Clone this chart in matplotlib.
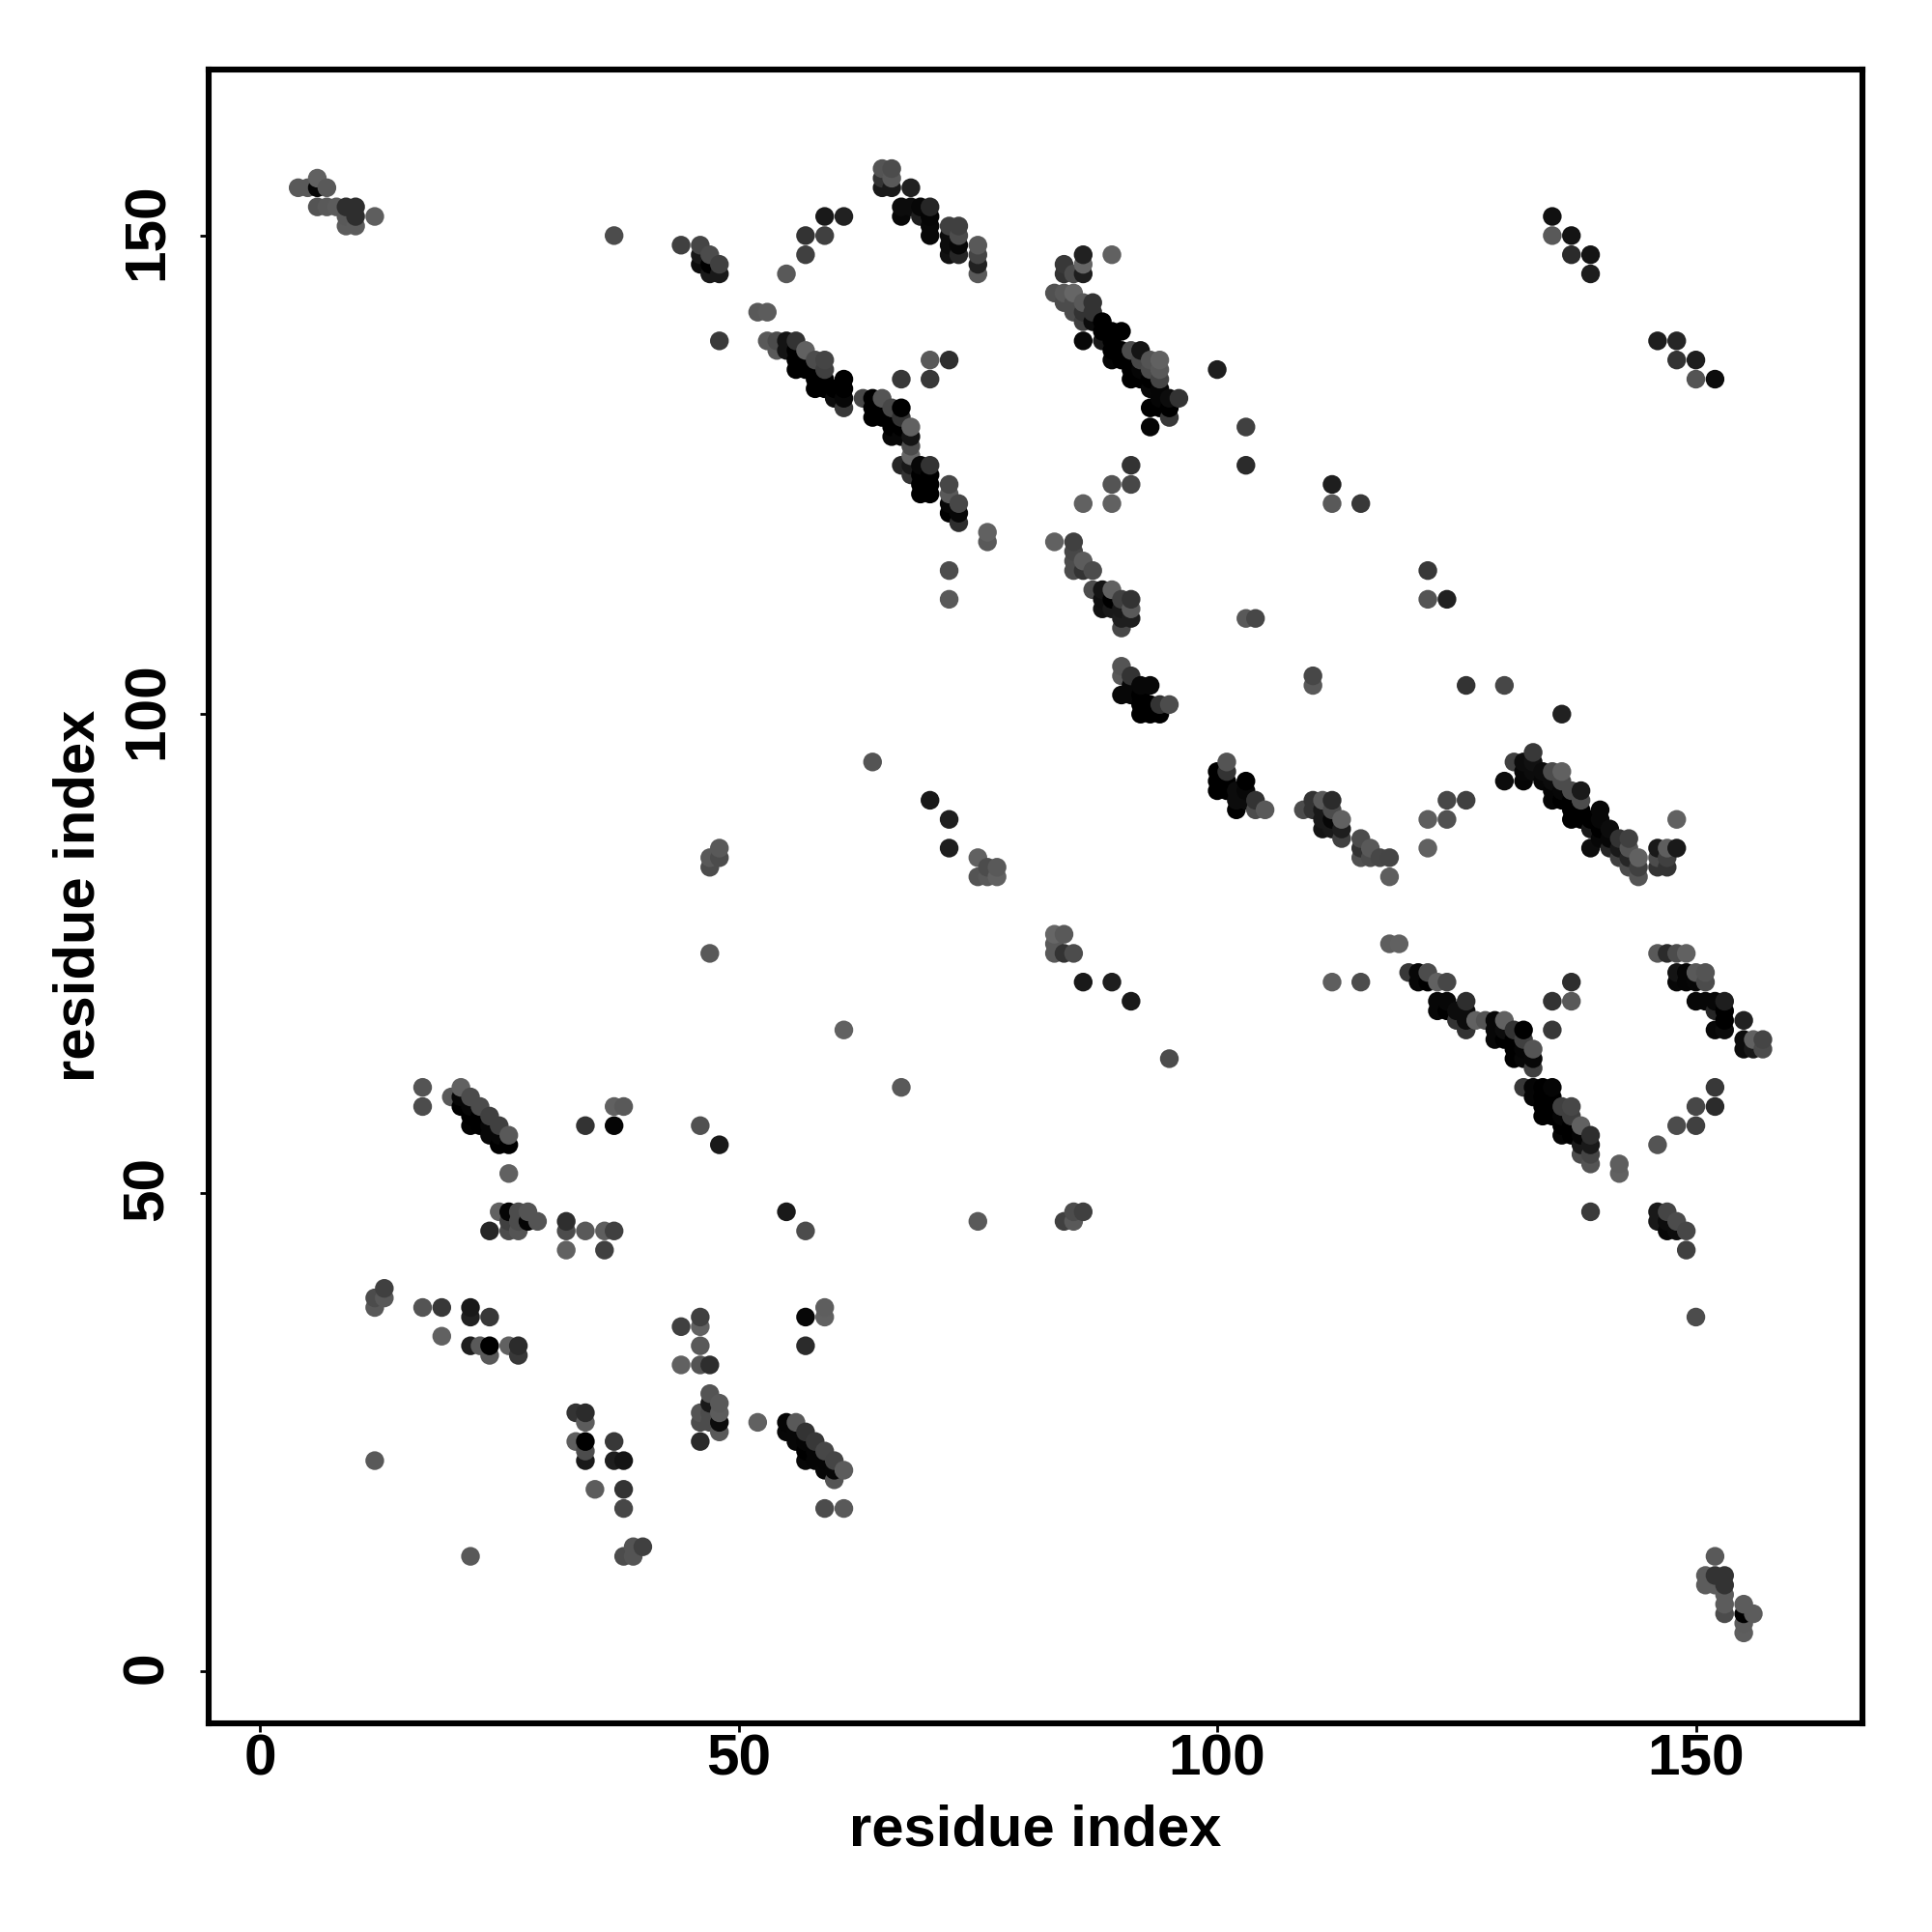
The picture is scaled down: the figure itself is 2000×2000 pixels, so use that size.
import numpy as np
import matplotlib
matplotlib.use("Agg")
import matplotlib.pyplot as plt
from matplotlib.transforms import ScaledTranslation

plt.rcParams['font.family'] = ['Liberation Sans', 'DejaVu Sans']

# contacts: residue pair + grey level, one block per region
tl_x = [4, 5, 6, 6, 7, 6, 7, 8, 9, 10, 9, 10, 12, 9, 10, 37, 44, 46, 47, 48, 46, 46, 47, 47, 48, 48, 52, 53]
tl_y = [155, 155, 156, 155, 155, 153, 153, 153, 153, 153, 152, 152, 152, 151, 151, 150, 149, 149, 148, 147, 148, 147, 147, 146, 146, 139, 142, 142]
tl_g = [.35, .35, .38, .02, .35, .33, .35, .36, .18, .18, .35, .18, .37, .36, .36, .3, .25, .27, .3, .25, .1, .05, 0, .1, .1, .23, .35, .36]

top_x = [55, 57, 57, 59, 59, 61, 65, 66, 65, 66, 65, 66, 68, 67, 68, 69, 70, 67, 69, 70, 70, 72, 73, 70, 72, 73, 72, 73, 75, 72, 73, 75, 75, 75]
top_y = [146, 148, 150, 150, 152, 152, 157, 157, 156, 156, 155, 155, 155, 153, 153, 153, 153, 152, 152, 152, 151, 151, 151, 150, 150, 150, 149, 149, 149, 148, 148, 148, 147, 146]
top_g = [.35, .25, .2, .25, .1, .13, .33, .3, .2, .35, .1, .1, .13, .05, .05, .03, .15, .03, .12, .02, .03, .25, .25, .03, .05, .3, .05, .03, .35, .07, .15, .27, .13, .35]

b1_x = [53, 54, 55, 56, 54, 55, 56, 57, 56, 57, 58, 59, 56, 57, 58, 59, 58, 59, 61, 58, 59, 60, 61, 60, 61, 63, 64, 65, 61, 64, 65, 66, 67, 64, 65, 66, 67, 66, 67, 68, 66, 67, 68, 68, 68]
b1_y = [139, 139, 139, 139, 138, 138, 138, 138, 137, 137, 137, 137, 136, 136, 136, 136, 135, 135, 135, 134, 134, 134, 134, 133, 133, 133, 133, 133, 132, 132, 132, 132, 132, 131, 131, 131, 131, 130, 130, 130, 129, 129, 129, 128, 127]
b1_g = [.35, .3, .08, .2, .35, .08, 0, .38, 0, 0, .3, .27, 0, 0, 0, .25, 0, 0, 0, 0, 0, 0, 0, .05, .03, .28, 0, .33, .22, 0, 0, .28, 0, 0, 0, 0, .2, 0, 0, .38, .03, .03, .08, .3, .4]

b2_x = [67, 68, 69, 70, 68, 69, 70, 69, 70, 72, 69, 70, 72, 72, 73, 72, 73, 73, 70, 72, 67, 70, 76, 76, 72, 72, 64]
b2_y = [126, 126, 126, 126, 125, 125, 125, 124, 124, 124, 123, 123, 123, 122, 122, 121, 121, 120, 137, 137, 135, 135, 119, 118, 115, 112, 95]
b2_g = [.15, .1, .03, .2, .2, 0, 0, 0, 0, .28, 0, 0, .35, .03, .28, 0, .03, .18, .35, .18, .22, .22, .38, .35, .3, .35, .33]

b3_x = [86, 89, 84, 86, 84, 85, 86, 83, 84, 85, 84, 85, 86, 87, 85, 86, 87, 86, 87, 88, 88, 89, 90, 86, 88, 89, 89, 90, 91, 92, 89, 90, 91, 92, 93, 94, 91, 92, 93, 94, 91, 92, 93, 94, 93, 94, 94, 95, 96, 93, 94, 95, 95, 93]
b3_y = [148, 148, 147, 147, 146, 146, 146, 144, 144, 144, 143, 143, 143, 143, 142, 142, 142, 141, 141, 141, 140, 140, 140, 139, 139, 139, 138, 138, 138, 138, 137, 137, 137, 137, 137, 137, 136, 136, 136, 136, 135, 135, 135, 135, 134, 134, 133, 133, 133, 132, 132, 132, 131, 130]
b3_g = [.13, .38, .22, .4, .2, .3, .12, .32, .35, .4, .3, .3, .35, .2, .3, .2, .2, .25, .05, 0, 0, 0, 0, .03, .1, 0, 0, 0, .3, .08, .02, 0, 0, .28, .33, .38, 0, .02, .3, .35, 0, 0, 0, .27, .03, .02, .02, .05, .2, 0, 0, 0, .22, .02]

mid_x = [100, 103, 103, 91, 91, 89, 86, 89, 112, 112, 115, 83, 85, 85, 85, 86, 85, 86, 87, 87, 88, 89, 88, 89, 90, 91, 88, 89, 90, 91, 90, 91, 90, 103, 104, 122, 122, 124]
mid_y = [136, 130, 126, 126, 124, 124, 122, 122, 124, 122, 122, 118, 118, 117, 116, 116, 115, 115, 115, 113, 113, 113, 112, 112, 112, 112, 111, 111, 111, 111, 110, 110, 109, 110, 110, 115, 112, 112]
mid_g = [.12, .25, .17, .2, .28, .33, .38, .38, .12, .35, .22, .38, .25, .28, .3, .36, .3, .2, .3, .3, .08, .38, .06, 0, .25, .2, .07, .1, .1, .35, .12, .12, .28, .35, .28, .22, .33, .13]

c100_x = [90, 90, 91, 92, 93, 91, 90, 91, 92, 92, 93, 94, 95, 92, 93, 94, 110, 110, 126, 130, 136, 101, 100, 101, 100, 101, 103, 100, 101, 102, 103, 102, 103, 104, 102, 104, 105]
c100_y = [105, 104, 104, 103, 103, 103, 102, 102, 102, 101, 101, 101, 101, 100, 100, 100, 104, 103, 103, 103, 100, 95, 94, 94, 93, 93, 93, 92, 92, 92, 92, 91, 91, 91, 90, 90, 90]
c100_g = [.33, .35, .2, .03, .03, .03, .03, .03, 0, 0, 0, .2, .3, 0, 0, 0, .28, .35, .2, .28, .13, .33, 0, .2, 0, 0, 0, 0, 0, .05, .03, .05, .05, .2, 0, .3, .35]

c110_x = [109, 110, 111, 112, 110, 111, 112, 111, 112, 113, 111, 112, 113, 113, 115, 115, 116, 115, 116, 117, 118, 118, 122, 124, 124, 126, 122]
c110_y = [90, 91, 91, 91, 90, 90, 90, 89, 89, 89, 88, 88, 88, 87, 87, 86, 86, 85, 85, 85, 85, 83, 89, 89, 91, 91, 86]
c110_g = [.3, .2, .35, .17, .2, .1, .3, .1, .03, .38, .08, .1, .12, .25, .3, .2, .35, .32, .3, .28, .27, .37, .37, .32, .28, .25, .38]

b4_x = [130, 131, 133, 132, 133, 132, 133, 134, 135, 136, 132, 134, 135, 136, 135, 136, 137, 138, 135, 136, 137, 138, 137, 138, 140, 137, 138, 139, 140, 139, 140, 141, 140, 141, 142, 143, 139, 141, 142, 143, 142, 143, 144, 143, 144, 144, 148, 146, 147, 148, 146, 147, 146, 147]
b4_y = [93, 95, 96, 95, 95, 94, 94, 94, 94, 94, 93, 93, 93, 93, 92, 92, 92, 92, 91, 91, 91, 91, 90, 90, 90, 89, 89, 89, 89, 88, 88, 88, 87, 87, 87, 87, 86, 86, 86, 86, 85, 85, 85, 84, 84, 83, 89, 86, 86, 86, 85, 85, 84, 84]
b4_g = [.05, .25, .22, .05, .07, .03, .05, .05, .3, .38, .02, .03, .05, .3, .02, .03, .3, .1, .02, 0, 0, .3, 0, 0, .03, 0, 0, 0, .03, .1, 0, .05, .03, .03, .2, .25, .05, .15, .1, .33, .25, .15, .38, .3, .25, .33, .38, .1, .37, .1, .3, .25, .2, .2]

c75_x = [47, 47, 47, 48, 48, 70, 72, 72, 75, 76, 77, 75, 76, 77, 83, 84, 83, 83, 84, 85, 86, 89, 91, 61, 67, 95, 75, 84, 85, 85, 86]
c75_y = [75, 84, 85, 85, 86, 91, 89, 86, 85, 84, 84, 83, 83, 83, 77, 77, 76, 75, 75, 75, 72, 72, 70, 67, 61, 64, 47, 47, 47, 48, 48]
c75_g = [.35, .3, .35, .3, .35, .1, .12, .12, .38, .3, .35, .33, .35, .38, .4, .35, .35, .35, .2, .3, .1, .12, .1, .38, .35, .3, .35, .25, .35, .3, .25]

b5_x = [118, 119, 112, 115, 120, 121, 122, 121, 122, 123, 124, 123, 124, 126, 123, 124, 125, 126, 125, 126, 127, 128, 129, 130, 126, 129, 130, 131, 132, 129, 130, 131, 132, 131, 132, 133, 131, 132, 133, 133]
b5_y = [76, 76, 72, 72, 73, 73, 73, 72, 72, 72, 72, 70, 70, 70, 69, 69, 69, 69, 68, 68, 68, 68, 68, 68, 67, 67, 67, 67, 67, 66, 66, 66, 66, 65, 65, 65, 64, 64, 64, 63]
b5_g = [.37, .38, .37, .3, .22, .03, .3, .03, 0, .38, .28, .03, .03, .18, .03, 0, .05, .05, .2, .05, .38, .33, .03, .38, .2, .03, .05, .2, 0, .03, 0, 0, .25, 0, .02, .33, 0, .03, .03, .25]

b6_x = [132, 133, 134, 135, 133, 134, 135, 134, 135, 136, 137, 134, 135, 136, 137, 136, 137, 138, 136, 137, 138, 139, 138, 139, 138, 139, 139, 142, 142, 137, 137, 135, 135, 139]
b6_y = [61, 61, 61, 61, 60, 60, 60, 59, 59, 59, 59, 58, 58, 58, 58, 57, 57, 57, 56, 56, 56, 56, 55, 55, 54, 54, 53, 53, 52, 72, 70, 70, 67, 48]
b6_g = [.22, .02, 0, .02, .02, 0, 0, 0, 0, .25, .28, 0, 0, .02, .25, 0, 0, .38, .02, 0, .02, .18, .1, .1, .3, .27, .33, .37, .38, .18, .35, .2, .22, .23]

b7_x = [146, 147, 148, 149, 148, 149, 150, 151, 148, 149, 150, 151, 150, 151, 152, 153, 152, 153, 153, 155, 152, 153, 155, 156, 157, 155, 156, 157]
b7_y = [75, 75, 75, 75, 73, 73, 73, 73, 72, 72, 72, 72, 70, 70, 70, 70, 69, 69, 68, 68, 67, 67, 66, 66, 66, 65, 65, 65]
b7_g = [.35, .17, .3, .38, .08, .02, .35, .33, .03, .02, .03, .3, .03, .03, .03, .12, .15, 0, 0, .13, .03, .05, .05, .38, .27, .05, .1, .3]

br_x = [152, 152, 150, 150, 148, 146, 146, 147, 146, 147, 148, 147, 148, 149, 149, 150, 135, 135, 137, 137, 139, 139, 146, 148, 148, 150, 150, 152]
br_y = [61, 59, 59, 57, 57, 55, 48, 48, 47, 47, 47, 46, 46, 46, 44, 37, 152, 150, 150, 148, 148, 146, 139, 139, 137, 137, 135, 135]
br_g = [.22, .17, .28, .25, .3, .33, .1, .27, .1, .05, .3, .03, .05, .28, .25, .3, .07, .35, .08, .17, .08, .12, .12, .15, .2, .12, .33, .05]

corner_x = [152, 151, 152, 153, 151, 152, 153, 153, 153, 153, 155, 155, 156, 155, 155]
corner_y = [12, 10, 10, 10, 9, 9, 9, 8, 7, 6, 7, 6, 6, 5, 4]
corner_g = [.35, .36, .2, .2, .36, .36, .2, .36, .36, .3, .36, 0, .36, .36, .37]

ll_x = [17, 17, 20, 21, 21, 22, 21, 22, 23, 22, 23, 24, 22, 23, 24, 25, 24, 25, 26, 25, 26, 26, 37, 38, 34, 37, 46, 48]
ll_y = [61, 59, 60, 61, 60, 60, 59, 59, 59, 58, 58, 58, 57, 57, 57, 57, 56, 56, 56, 55, 55, 52, 59, 59, 57, 57, 57, 55]
ll_g = [.33, .3, .35, .38, .03, .3, 0, .03, .3, 0, 0, .25, .01, 0, .03, .25, .03, .03, .35, 0, 0, .38, .38, .35, .2, .02, .32, .1]

c47_x = [25, 26, 27, 28, 26, 27, 28, 29, 24, 26, 27, 32, 32, 34, 36, 37, 32, 36, 55, 57]
c47_y = [48, 48, 48, 48, 47, 47, 47, 47, 46, 46, 46, 47, 46, 46, 46, 46, 44, 44, 48, 46]
c47_g = [.38, .02, .3, .33, .25, .3, .02, .33, .15, .3, .33, .18, .3, .35, .37, .25, .38, .25, .1, .3]

c35_x = [12, 12, 13, 13, 17, 19, 22, 22, 24, 19, 22, 23, 24, 26, 27, 24, 27, 46, 46, 44, 46, 44, 46, 47, 59, 59, 57, 57]
c35_y = [39, 38, 40, 39, 38, 38, 38, 37, 37, 35, 34, 34, 34, 34, 34, 33, 33, 37, 36, 36, 34, 32, 32, 32, 38, 37, 37, 34]
c35_g = [.3, .35, .25, .35, .33, .22, .1, .13, .22, .38, .12, .35, 0, .38, .17, .35, .22, .25, .38, .25, .35, .38, .33, .18, .37, .38, .03, .17]

c25_x = [47, 48, 46, 47, 48, 47, 46, 47, 48, 48, 46, 52, 33, 34, 34, 33, 34, 34, 34, 37, 37, 38, 35, 38, 38, 38, 39, 39, 40]
c25_y = [29, 28, 27, 27, 27, 28, 26, 26, 26, 25, 24, 26, 27, 27, 26, 24, 24, 23, 22, 24, 22, 22, 19, 19, 17, 12, 12, 13, 13]
c25_g = [.33, .35, .33, .3, .36, .1, .3, .3, .05, .35, .17, .38, .2, .17, .36, .37, 0, .3, .1, .22, .12, .08, .36, .2, .28, .3, .33, .33, .25]

b8_x = [55, 56, 55, 56, 57, 56, 57, 58, 57, 58, 59, 57, 58, 59, 60, 59, 60, 61, 60, 59, 61, 12, 22]
b8_y = [26, 26, 25, 25, 25, 24, 24, 24, 23, 23, 23, 22, 22, 22, 22, 21, 21, 21, 20, 17, 17, 22, 12]
b8_g = [.02, .35, .03, .03, .2, .03, .02, .22, 0, .02, .28, .03, .02, .02, .27, .03, .03, .36, .33, .3, .35, .35, .35]

tick_vals = [0, 50, 100, 150]

xs = np.array(tl_x + top_x + b1_x + b2_x + b3_x + mid_x + c100_x + c110_x + b4_x + c75_x + b5_x + b6_x + b7_x + br_x + corner_x + ll_x + c47_x + c35_x + c25_x + b8_x)
ys = np.array(tl_y + top_y + b1_y + b2_y + b3_y + mid_y + c100_y + c110_y + b4_y + c75_y + b5_y + b6_y + b7_y + br_y + corner_y + ll_y + c47_y + c35_y + c25_y + b8_y)
gs = np.array(tl_g + top_g + b1_g + b2_g + b3_g + mid_g + c100_g + c110_g + b4_g + c75_g + b5_g + b6_g + b7_g + br_g + corner_g + ll_g + c47_g + c35_g + c25_g + b8_g)

# later x (then later y) sits on top, as in the original
order = np.lexsort((ys, xs))

fig = plt.figure(figsize=(20, 20), dpi=100)
ax = fig.add_axes([216 / 2000, 1 - 1784 / 2000, 1712 / 2000, 1712.5 / 2000])
ax.scatter(xs[order], ys[order], c=gs[order], cmap='gray', vmin=0, vmax=1, s=195, linewidths=0)

ax.set_xlim(-5.35, 167.4)
ax.set_ylim(-5.45, 167.4)
ax.set_xticks(tick_vals)
ax.set_yticks(tick_vals)
ax.tick_params(axis='both', length=6.5, width=2.0, labelsize=43.5)
ax.tick_params(axis='x', pad=1)
ax.tick_params(axis='y', pad=19)
for lab in ax.get_xticklabels() + ax.get_yticklabels():
    lab.set_fontweight('bold')
# rotated labels sit a touch low otherwise
nudge = ScaledTranslation(0, 4 / 100, fig.dpi_scale_trans)
for lab in ax.get_yticklabels():
    lab.set_rotation(90)
    lab.set_va('center')
    lab.set_transform(lab.get_transform() + nudge)
for sp in ax.spines.values():
    sp.set_linewidth(4.4)

ax.set_xlabel('residue index', fontsize=43, fontweight='bold', labelpad=13)
ax.set_ylabel('residue index', fontsize=43, fontweight='bold', labelpad=11.5)

fig.savefig('out.png', dpi=100)
